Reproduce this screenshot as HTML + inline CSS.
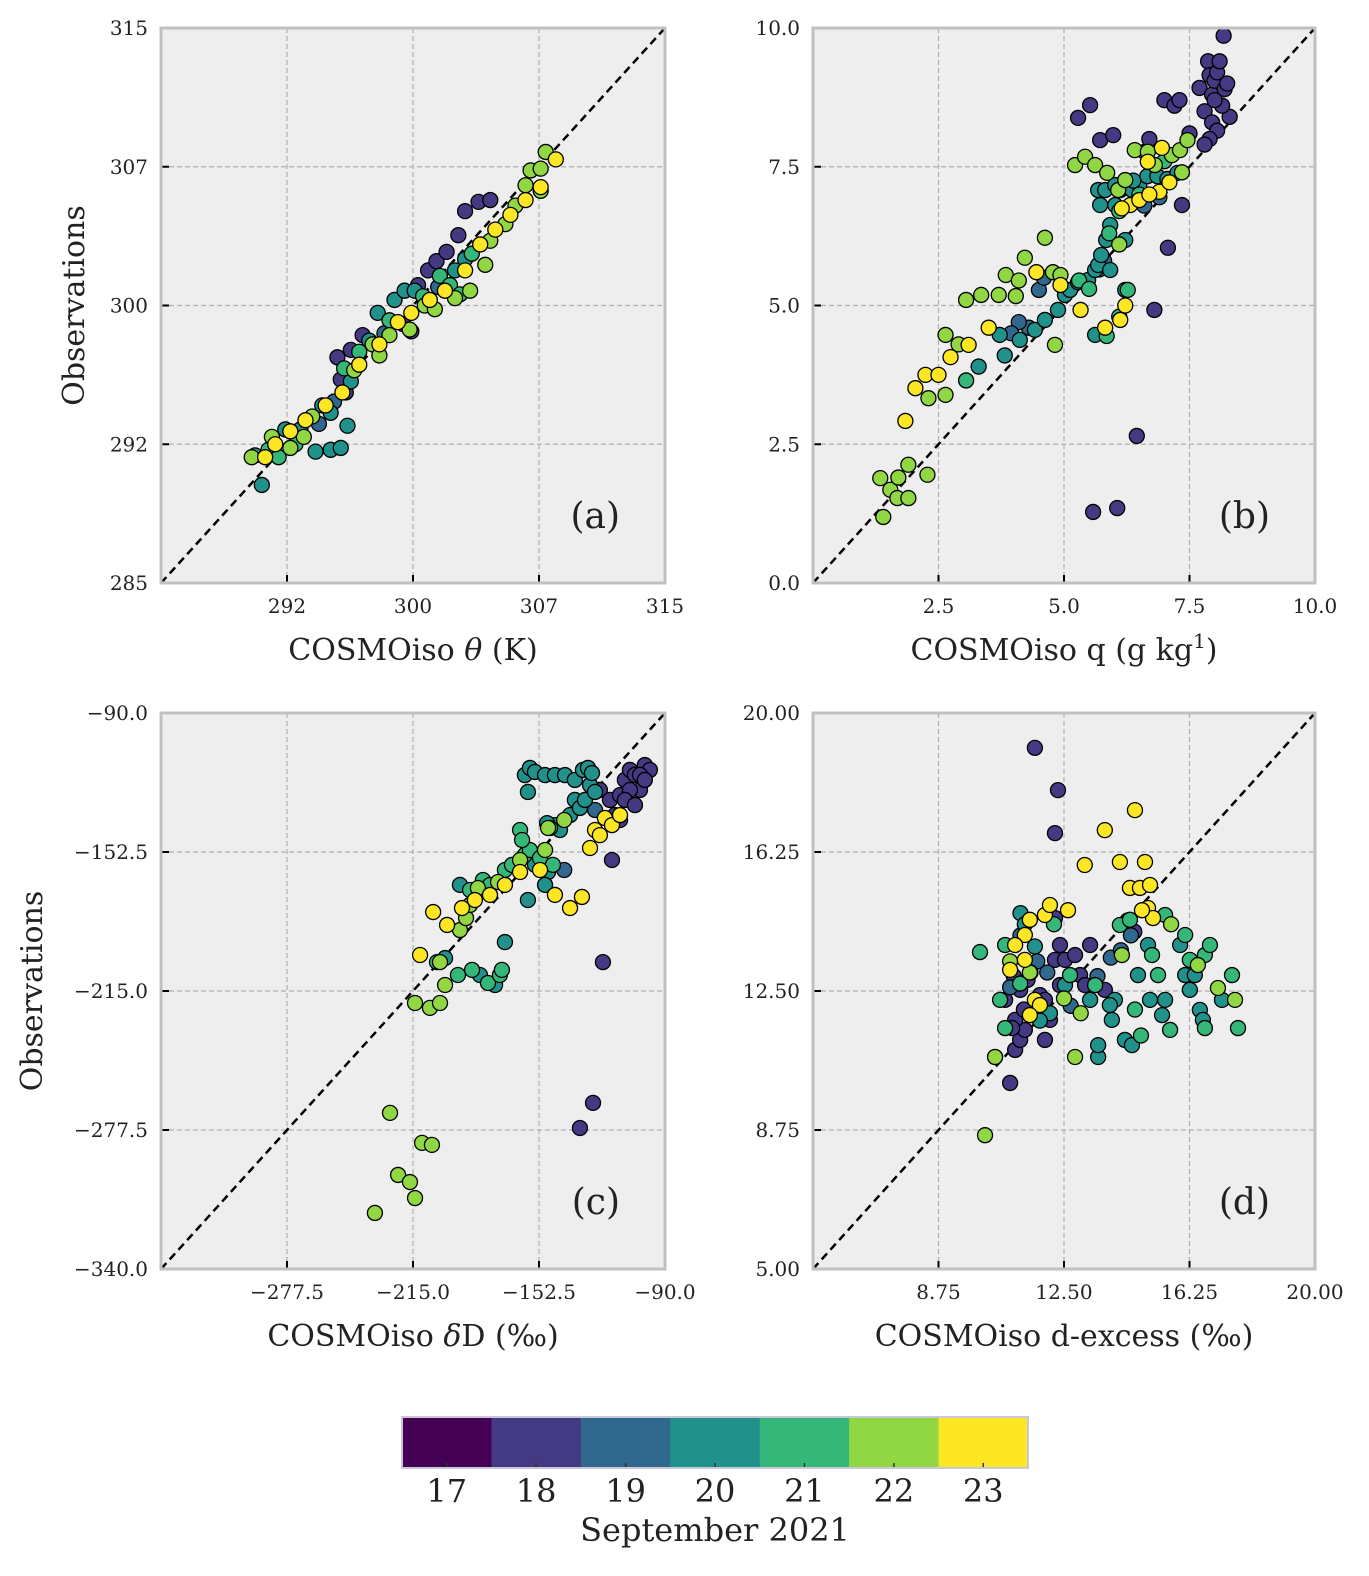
<!DOCTYPE html>
<html><head><meta charset="utf-8"><style>
html,body{margin:0;padding:0;background:#fff}
svg{display:block}
text{font-family:"DejaVu Serif","Liberation Serif",serif;fill:#222}
</style></head><body>
<svg id="fig" width="1369" height="1576" viewBox="0 0 1369 1576" xmlns="http://www.w3.org/2000/svg"></svg>
<script>
const dayColors = ["#440154","#443983","#31688e","#21918c","#35b779","#90d743","#fde725"];
const dayLabels = ["17","18","19","20","21","22","23"];

// Panel a: theta (K)
const aModel = [295.5,295.7,296.0,296.3,297.0,300.3,300.9,301.4,302.0,302.7,303.1,303.9,304.6,299.4,299.9,
 294.4,295.3,298.3,301.5,293.2,
 291.0,290.6,292.4,293.3,294.2,295.1,295.7,296.1,294.6,295.1,296.3,297.4,297.9,298.9,299.5,300.1,302.5,303.1,
 291.4,292.0,293.0,296.8,298.6,300.6,301.6,302.2,302.8,303.5,295.9,
 290.4,291.6,292.7,293.5,297.6,298.0,298.6,299.8,300.7,301.3,302.5,303.4,304.3,304.6,305.5,306.1,306.7,307.0,307.6,307.9,307.6,296.5,294.0,
 291.2,291.8,292.7,293.6,294.8,295.8,296.8,298.0,299.1,299.9,301.0,301.9,303.1,304.0,304.9,305.8,306.7,307.6,308.5];
const aObs = [297.2,296.0,295.3,297.6,298.4,301.1,301.9,302.4,302.9,303.8,305.1,305.6,305.7,299.0,298.6,
 293.6,294.8,298.5,301.0,293.0,
 290.3,291.9,293.3,293.3,292.1,292.2,292.3,293.5,294.6,294.2,295.9,298.1,299.6,300.3,300.8,300.8,301.9,302.5,
 292.2,291.8,292.5,297.5,299.2,300.5,301.6,301.1,300.6,302.8,296.6,
 291.8,292.9,292.3,292.9,297.9,297.3,298.4,298.7,300.0,299.8,300.4,300.8,302.2,303.5,304.4,305.4,306.5,307.3,307.4,308.3,306.2,296.5,294.0,
 291.8,292.5,293.2,293.8,294.6,295.3,296.8,297.9,299.1,299.6,300.3,300.8,301.9,303.3,304.1,304.9,305.7,306.4,307.9];
const aDay = [18,18,18,18,18,18,18,18,18,18,18,18,18,18,18,
 19,19,19,19,19,
 20,20,20,20,20,20,20,20,20,20,20,20,20,20,20,20,20,20,
 21,21,21,21,21,21,21,21,21,21,21,
 22,22,22,22,22,22,22,22,22,22,22,22,22,22,22,22,22,22,22,22,22,22,22,
 23,23,23,23,23,23,23,23,23,23,23,23,23,23,23,23,23,23,23];

// Panel b: q (g/kg)
const bModel = [5.28,5.52,5.72,5.98,7.35,7.07,6.8,6.45,5.58,6.06,6.61,6.7,7.0,7.2,7.3,7.5,7.7,7.8,7.87,7.9,7.95,8.0,8.05,7.95,8.05,7.9,7.8,8.2,8.18,8.1,8.3,8.15,8.0,8.25,
 4.5,4.3,4.1,3.95,5.8,5.7,6.6,6.9,4.6,
 3.72,3.82,4.12,4.42,4.62,4.88,5.02,5.12,5.28,5.48,5.62,5.68,5.74,5.84,5.92,6.02,6.12,6.22,6.36,6.5,6.66,6.86,7.06,7.26,5.68,5.82,6.02,5.72,5.92,6.22,5.62,6.22,6.38,3.3,
 3.05,6.27,5.85,5.3,6.1,6.5,7.0,6.1,5.9,5.5,
 1.34,1.4,1.54,1.68,1.9,1.9,1.7,2.28,2.64,2.64,2.3,3.05,3.35,3.7,4.04,3.84,4.1,4.22,4.62,4.78,4.82,4.93,5.22,5.42,5.62,5.86,6.08,6.22,6.41,6.67,6.81,7.15,7.31,7.46,7.35,2.9,6.1,
 1.84,2.04,2.24,2.5,2.74,3.1,3.5,4.93,4.45,5.33,5.82,6.12,6.22,6.32,6.5,6.67,6.9,6.7,7.1,6.95,6.15];
const bObs = [8.38,8.61,7.98,8.07,6.81,6.04,4.92,2.65,1.28,1.35,7.77,8.0,8.7,8.6,8.7,8.1,8.92,8.5,9.4,9.15,8.8,9.05,9.2,8.3,8.15,8.0,7.9,8.9,9.86,9.4,8.4,8.6,8.7,9.0,
 5.28,4.6,4.7,4.5,5.8,5.65,6.8,6.95,5.5,
 4.47,4.1,4.38,4.56,4.74,4.92,5.19,5.28,5.42,5.46,5.64,5.73,5.91,6.18,6.45,6.81,7.08,7.2,7.08,7.17,7.33,7.33,7.28,7.39,7.08,7.08,7.17,6.81,5.64,5.28,4.47,6.18,7.25,3.9,
 3.65,5.28,4.45,5.45,4.8,7.0,7.6,6.7,6.3,5.3,
 1.89,1.19,1.68,1.53,1.53,2.13,1.9,1.95,4.47,3.39,3.33,5.1,5.19,5.19,5.17,5.55,5.45,5.86,6.22,5.6,4.29,5.55,7.53,7.68,7.53,7.39,7.08,7.26,7.8,7.77,7.53,7.71,7.8,7.98,7.4,4.3,6.1,
 2.92,3.51,3.75,3.75,4.07,4.29,4.6,5.37,5.6,4.92,4.6,4.74,5.0,6.81,6.9,7.59,7.05,7.0,7.22,7.84,6.75];
const bDay = [18,18,18,18,18,18,18,18,18,18,18,18,18,18,18,18,18,18,18,18,18,18,18,18,18,18,18,18,18,18,18,18,18,18,
 19,19,19,19,19,19,19,19,19,
 20,20,20,20,20,20,20,20,20,20,20,20,20,20,20,20,20,20,20,20,20,20,20,20,20,20,20,20,20,20,20,20,20,20,
 21,21,21,21,21,21,21,21,21,21,
 22,22,22,22,22,22,22,22,22,22,22,22,22,22,22,22,22,22,22,22,22,22,22,22,22,22,22,22,22,22,22,22,22,22,22,22,22,
 23,23,23,23,23,23,23,23,23,23,23,23,23,23,23,23,23,23,23,23,23];

// Panel c: deltaD (permil)
const cModel = [-132.2,-125.7,-120.8,-116.3,-112.3,-109.9,-107.4,-104.9,-102.4,-100,-97.5,-122.3,-117.3,-112.3,-107.4,-102.4,-109.9,-114.8,-104.9,-100,
 -124.7,-140,
 -181.8,-174.3,-169.4,-154.5,-144.6,-142.1,-137.1,-134.7,-132.2,-129.7,-127.2,-124.7,-148.5,-158,-159.5,-157,-154.5,-149.5,-144.6,-139.6,-134.7,-130.7,-128.2,-126.2,-148,-149.5,-158,-191.7,-199.1,
 -192.7,-185.7,-177.8,-171.9,-170.9,-180.3,-176.8,-169.4,-165.9,-159.5,-157,-152,-147,-161.9,-160.9,-145.6,-186.7,-203.1,
 -233.9,-226.4,-222.4,-216.5,-214,-210.5,-205.6,-214,-206.6,-201.6,-199.1,-201.6,-191.7,-188.7,-186.7,-182.8,-172.8,-161.9,-149.5,-148,-140,
 -211.5,-205,-198.1,-190.7,-184.3,-176.8,-169.4,-161.9,-152,-144.6,-137.1,-131.2,-127.2,-124.7,-119.8,-116.3,-122.3,-112.3];
const cObs = [-276.6,-265.3,-202,-156.1,-138.1,-120.1,-115.6,-117.8,-124.6,-113.4,-115.6,-124.6,-129.1,-126.9,-124.6,-117.8,-129.1,-135.9,-131.4,-120.1,
 -133.6,-160.6,
 -207.8,-212.3,-193,-158.3,-140.4,-142.6,-135.9,-129.1,-132.7,-129.1,-122.4,-125.5,-139.5,-125.5,-117.9,-114.7,-116.5,-117.9,-117.9,-117.9,-120.1,-115.6,-114.7,-117,-161.5,-167.3,-174.1,-167.3,-200.2,
 -207.8,-205.5,-211.4,-207.8,-205.5,-165.1,-167.3,-160.6,-158.3,-153.8,-151.6,-155.2,-141.7,-142.6,-147.1,-158.3,-169.6,-202,
 -314.8,-269.8,-297.7,-300.9,-308.1,-283.3,-284.2,-220.4,-222.6,-220.4,-212.3,-202,-187.6,-182.2,-176.3,-168.7,-166,-156.1,-151.6,-141.7,-138.1,
 -198.8,-179.5,-185.3,-177.7,-174.1,-171.8,-167.3,-161.5,-160.6,-171.8,-177.7,-172.7,-150.7,-142.6,-137.2,-140.4,-144.9,-135.9];
const cDay = [18,18,18,18,18,18,18,18,18,18,18,18,18,18,18,18,18,18,18,18,
 19,19,
 20,20,20,20,20,20,20,20,20,20,20,20,20,20,20,20,20,20,20,20,20,20,20,20,20,20,20,20,20,
 21,21,21,21,21,21,21,21,21,21,21,21,21,21,21,21,21,21,
 22,22,22,22,22,22,22,22,22,22,22,22,22,22,22,22,22,22,22,22,22,
 23,23,23,23,23,23,23,23,23,23,23,23,23,23,23,23,23,23];

// Panel d: d-excess (permil)
const dModel = [11.63,12.32,12.23,12.23,10.89,11.04,11.19,11.33,11.48,11.63,11.78,11.93,12.08,11.93,11.78,11.41,11.19,12.23,12.38,12.53,12.38,12.83,12.98,13.13,13.28,13.72,10.74,11.04,11.0,10.95,11.3,14.4,14.6,
 10.89,11.2,11.7,12.0,13.5,13.9,14.2,14.5,12.7,11.5,
 11.2,11.33,11.63,12.08,13.52,13.52,14.32,14.53,14.71,15.01,15.43,15.52,15.97,16.12,16.26,16.56,16.65,17.22,13.93,13.28,12.53,15.07,16.41,10.44,11.78,14.02,13.87,
 9.99,10.59,10.74,11.19,12.68,13.43,14.17,14.47,15.13,15.31,15.52,16.12,16.26,16.71,16.86,14.62,15.67,16.71,17.52,17.7,10.74,12.2,14.8,
 10.14,10.44,10.89,11.48,12.83,14.23,15.16,16.5,17.1,17.61,15.7,13.0,12.5,
 13.12,13.72,14.17,14.62,14.92,14.47,14.77,15.01,15.07,15.16,14.83,12.62,11.48,11.33,11.93,11.04,10.89,11.33,11.63,11.78,11.48,12.08];
const dObs = [19.06,17.92,16.76,14.47,10.02,10.91,11.18,11.45,11.85,12.12,12.39,11.18,11.72,12.26,11.99,12.8,12.53,13.34,13.74,13.34,12.66,13.47,12.93,12.66,13.74,12.53,12.26,11.72,12.9,11.5,12.0,14.4,14.1,
 12.6,14.0,13.3,13.0,12.9,13.4,13.6,14.0,12.1,13.0,
 14.6,14.3,13.7,11.9,10.72,11.04,11.18,11.04,12.93,13.74,11.85,12.26,13.74,12.93,12.53,11.99,11.72,12.26,11.72,12.26,12.66,12.26,12.93,10.72,11.7,12.26,12.12,
 13.55,12.26,13.74,12.7,12.93,12.66,14.28,14.42,13.47,12.93,14.55,14.01,13.34,13.47,13.74,12.0,11.45,11.5,12.93,11.5,11.5,14.3,11.3,
 8.61,10.72,13.3,13.0,10.72,13.47,14.47,13.2,12.58,12.26,14.3,11.9,12.3,
 15.9,16.84,15.98,17.38,15.98,15.28,15.28,14.74,15.36,14.47,14.68,14.68,14.42,14.01,14.55,13.74,13.07,13.34,12.26,12.12,11.85,14.82];
const dDay = [18,18,18,18,18,18,18,18,18,18,18,18,18,18,18,18,18,18,18,18,18,18,18,18,18,18,18,18,18,18,18,18,18,
 19,19,19,19,19,19,19,19,19,19,
 20,20,20,20,20,20,20,20,20,20,20,20,20,20,20,20,20,20,20,20,20,20,20,20,20,20,20,
 21,21,21,21,21,21,21,21,21,21,21,21,21,21,21,21,21,21,21,21,21,21,21,
 22,22,22,22,22,22,22,22,22,22,22,22,22,
 23,23,23,23,23,23,23,23,23,23,23,23,23,23,23,23,23,23,23,23,23,23];

const aTicks = [292.5,300,307.5,315], aTickLabels = ["292","300","307","315"], aYLabels = ["285","292","300","307","315"];
const bTicks = [2.5,5,7.5,10], bTickLabels = ["2.5","5.0","7.5","10.0"], bYLabels = ["0.0","2.5","5.0","7.5","10.0"];
const cTicks = [-277.5,-215,-152.5,-90], cTickLabels = ["\u2212277.5","\u2212215.0","\u2212152.5","\u221290.0"], cYLabels = ["\u2212340.0","\u2212277.5","\u2212215.0","\u2212152.5","\u221290.0"];
const dTicks = [8.75,12.5,16.25,20], dTickLabels = ["8.75","12.50","16.25","20.00"], dYLabels = ["5.00","8.75","12.50","16.25","20.00"];

const NS = "http://www.w3.org/2000/svg";
const svg = document.getElementById("fig");
function mk(tag, attrs, parent, txt){
  const e = document.createElementNS(NS, tag);
  for (const k in attrs) e.setAttribute(k, attrs[k]);
  if (txt !== undefined) e.textContent = txt;
  (parent||svg).appendChild(e);
  return e;
}

function panel(opt){
  const g = mk("g", {});
  
  
  const L=opt.x0, R=opt.x1, T=opt.y0, B=opt.y1, lo=opt.min, hi=opt.max;
  const sx = v => L + (v-lo)/(hi-lo)*(R-L);
  const sy = v => B - (v-lo)/(hi-lo)*(B-T);
  const bg = mk("rect", {x:L,y:T,width:R-L,height:B-T,fill:"#eeeeee"}, g);
  
  
  const yt = [lo].concat(opt.ticks);
  // grid
  opt.ticks.forEach((t,i)=>{
    if (t < hi) {
      const gl = mk("line",{x1:sx(t),x2:sx(t),y1:T,y2:B,stroke:"#b0b0b0","stroke-width":1.2,"stroke-dasharray":"5,3"},g);
      
      
      const gy = mk("line",{x1:L,x2:R,y1:sy(t),y2:sy(t),stroke:"#b0b0b0","stroke-width":1.2,"stroke-dasharray":"5,3"},g);
      
      
    }
  });
  // ticks
  opt.ticks.forEach((t,i)=>{
    mk("line",{x1:sx(t),x2:sx(t),y1:B,y2:B-8,stroke:"#000","stroke-width":2},g);
    mk("line",{x1:L,x2:L+8,y1:sy(t),y2:sy(t),stroke:"#000","stroke-width":2},g);
    const tl = mk("text",{x:sx(t),y:B+30,"text-anchor":"middle","font-size":20},g,opt.xLabels[i]);
    
    
  });
  yt.forEach((t,i)=>{
    const tl = mk("text",{x:L-13,y:sy(t)+7,"text-anchor":"end","font-size":20},g,opt.yLabels[i]);
    
    
  });
  // diagonal
  const dg = mk("line",{x1:sx(lo),y1:sy(lo),x2:sx(hi),y2:sy(hi),stroke:"#000","stroke-width":2.5,"stroke-dasharray":"8,5"},g);
  
  
  // points
  const idx = opt.mx.map((_,i)=>i).sort((a,b)=>opt.day[a]-opt.day[b]);
  idx.forEach(i=>{
    const c = mk("circle",{cx:sx(opt.mx[i]),cy:sy(opt.ob[i]),r:7.5,fill:dayColors[opt.day[i]-17],stroke:"#000","stroke-width":1.3},g);
    
    
  });
  // frame
  mk("rect",{x:L,y:T,width:R-L,height:B-T,fill:"none",stroke:"#c0c0c0","stroke-width":3},g);
  const pl = mk("text",{x:R-45,y:B-55,"text-anchor":"end","font-size":36},g,opt.label);
  
  
  const xl = mk("text",{x:(L+R)/2,y:B+77,"text-anchor":"middle","font-size":30},g);
  xl.innerHTML = opt.xTitle;
  
  
  if (opt.yTitleX){
    const yl = mk("text",{x:opt.yTitleX,y:(T+B)/2,"text-anchor":"middle","font-size":30,transform:`rotate(-90 ${opt.yTitleX} ${(T+B)/2})`},g,"Observations");
    
    
  }
}

panel({name:"panel-a-theta",x0:161,x1:665,y0:28,y1:583,min:285,max:315,ticks:aTicks,xLabels:aTickLabels,yLabels:aYLabels,mx:aModel,ob:aObs,day:aDay,label:"(a)",xTitle:'COSMOiso <tspan font-style="italic">θ</tspan> (K)',yTitleX:84});
panel({name:"panel-b-q",x0:813,x1:1315,y0:28,y1:583,min:0,max:10,ticks:bTicks,xLabels:bTickLabels,yLabels:bYLabels,mx:bModel,ob:bObs,day:bDay,label:"(b)",xTitle:'COSMOiso q (g kg<tspan font-size="20" dy="-12">1</tspan><tspan dy="12">)</tspan>'});
panel({name:"panel-c-deltaD",x0:161,x1:665,y0:713,y1:1269,min:-340,max:-90,ticks:cTicks,xLabels:cTickLabels,yLabels:cYLabels,mx:cModel,ob:cObs,day:cDay,label:"(c)",xTitle:'COSMOiso <tspan font-style="italic">δ</tspan>D (‰)',yTitleX:42});
panel({name:"panel-d-dexcess",x0:813,x1:1315,y0:713,y1:1269,min:5,max:20,ticks:dTicks,xLabels:dTickLabels,yLabels:dYLabels,mx:dModel,ob:dObs,day:dDay,label:"(d)",xTitle:'COSMOiso d-excess (‰)'});

// colorbar
const cb = mk("g",{});


const cbL=402, cbR=1028, cbT=1417, cbB=1468, segW=(cbR-cbL)/dayLabels.length;
dayLabels.forEach((d,i)=>{
  const r = mk("rect",{x:cbL+i*segW,y:cbT,width:segW+0.5,height:cbB-cbT,fill:dayColors[i]},cb);
  
  
  mk("line",{x1:cbL+(i+0.5)*segW,x2:cbL+(i+0.5)*segW,y1:cbB,y2:cbB-5,stroke:"#333","stroke-width":1.5},cb);
  const t = mk("text",{x:cbL+(i+0.5)*segW,y:cbB+34,"text-anchor":"middle","font-size":32},cb,d);
  
  
});
mk("rect",{x:cbL,y:cbT,width:cbR-cbL,height:cbB-cbT,fill:"none",stroke:"#c8c8d8","stroke-width":2},cb);
const cbt = mk("text",{x:715,y:1541,"text-anchor":"middle","font-size":32},cb,"September 2021");


</script>
</body></html>
